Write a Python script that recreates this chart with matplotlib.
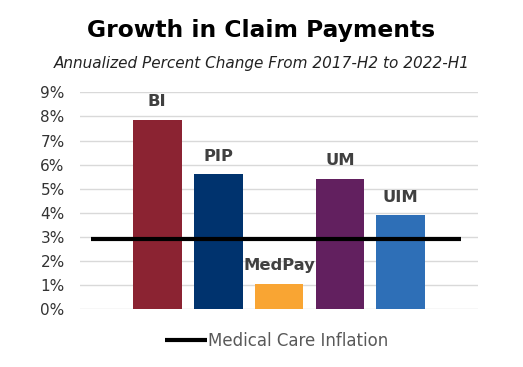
import matplotlib.pyplot as plt
from matplotlib.ticker import FuncFormatter

categories = ["BI", "PIP", "MedPay", "UM", "UIM"]
growth = [7.85, 5.61, 1.06, 5.41, 3.91]
bar_colors = ["#8B2332", "#00336E", "#F9A533", "#62205F", "#2E6FB7"]
medical_inflation = 2.93

plt.rcParams['font.family'] = ['DejaVu Sans']

fig = plt.figure(figsize=(5.23, 3.67), dpi=100)
ax = fig.add_axes([0.153, 0.157, 0.761, 0.5915])

x = list(range(len(categories)))
bars = ax.bar(x, growth, width=0.8, color=bar_colors, zorder=2)

# bar labels
for xi, v, name in zip(x, growth, categories):
    ax.annotate(name, (xi, v), xytext=(0, 13), textcoords="offset points",
                ha="center", va="center", fontsize=11.8, fontweight="bold",
                color="#404040")

# medical care inflation line
line, = ax.plot([-1.09, 4.99], [medical_inflation, medical_inflation],
                color="black", lw=3, solid_capstyle="butt", zorder=3,
                label="Medical Care Inflation")

ax.set_xlim(-1.27, 5.27)
ax.set_ylim(0, 9)
ax.set_yticks(range(0, 10))
ax.yaxis.set_major_formatter(FuncFormatter(lambda v, p: f"{int(v)}%"))
ax.set_xticks([])
ax.tick_params(axis="y", length=0, pad=11, labelsize=11, labelcolor="#333333")
ax.grid(axis="y", color="#d9d9d9", lw=1, zorder=0)
for s in ax.spines.values():
    s.set_visible(False)

fig.text(0.5, 0.918, "Growth in Claim Payments", ha="center", va="center",
         fontsize=16.8, fontweight="bold", color="black")
fig.text(0.5, 0.828, "Annualized Percent Change From 2017-H2 to 2022-H1",
         ha="center", va="center", fontsize=11, style="italic", color="#222222")

leg = fig.legend(handles=[line], loc="center", bbox_to_anchor=(0.529, 0.072),
                 frameon=False, fontsize=12, handlelength=2.5,
                 handletextpad=0.05)
for t in leg.get_texts():
    t.set_color("#595959")

fig.savefig("out.png", dpi=100)
